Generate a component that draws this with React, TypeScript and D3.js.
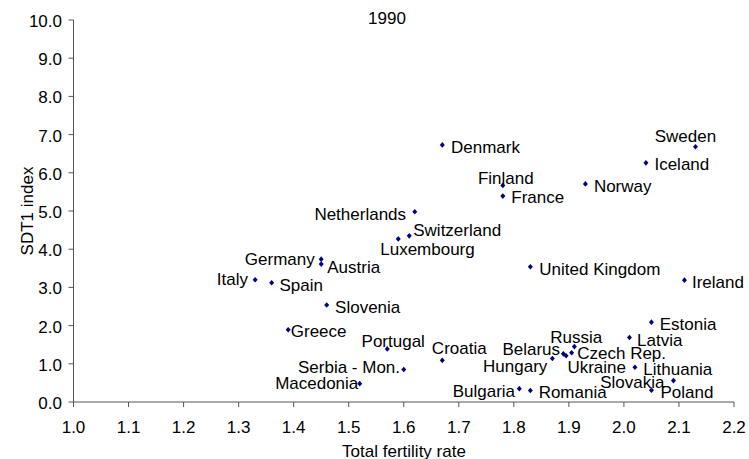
import React from "react";
import * as d3 from "d3";

const countries = [
  "Sweden", "Iceland", "Norway", "United Kingdom", "Ireland", "Finland", "France",
  "Denmark", "Netherlands", "Switzerland", "Luxembourg", "Germany", "Austria",
  "Italy", "Spain", "Slovenia", "Greece", "Portugal", "Croatia", "Serbia - Mon.",
  "Macedonia", "Estonia", "Latvia", "Russia", "Belarus", "Ukraine", "Czech Rep.",
  "Hungary", "Lithuania", "Slovakia", "Poland", "Bulgaria", "Romania",
];
const tfr = [
  2.13, 2.04, 1.93, 1.83, 2.11, 1.78, 1.78,
  1.67, 1.62, 1.61, 1.59, 1.45, 1.45,
  1.33, 1.36, 1.46, 1.39, 1.57, 1.67, 1.60,
  1.52, 2.05, 2.01, 1.91, 1.89, 1.895, 1.905,
  1.87, 2.02, 2.09, 2.05, 1.81, 1.83,
];
const sdt1 = [
  6.68, 6.26, 5.71, 3.54, 3.19, 5.67, 5.39,
  6.73, 4.98, 4.35, 4.27, 3.74, 3.61,
  3.20, 3.12, 2.54, 1.89, 1.39, 1.09, 0.85,
  0.48, 2.09, 1.69, 1.45, 1.26, 1.21, 1.29,
  1.14, 0.91, 0.56, 0.31, 0.35, 0.30,
];
const xTicks = [1.0, 1.1, 1.2, 1.3, 1.4, 1.5, 1.6, 1.7, 1.8, 1.9, 2.0, 2.1, 2.2];
const yTicks = [0, 1, 2, 3, 4, 5, 6, 7, 8, 9, 10];
const title = "1990";
const xTitle = "Total fertility rate";
const yTitle = "SDT1 index";

// label placement: [dx, dy(baseline), anchor]
const labelPlace: Record<string, [number, number, string]> = {
  "Sweden": [-10, -5, "middle"],
  "Iceland": [8.5, 7.5, "start"],
  "Norway": [8.5, 7.7, "start"],
  "United Kingdom": [9, 8, "start"],
  "Ireland": [7.5, 8.3, "start"],
  "Finland": [3, -1.5, "middle"],
  "France": [8.5, 7.3, "start"],
  "Denmark": [8.7, 8, "start"],
  "Netherlands": [-8.7, 8.3, "end"],
  "Switzerland": [4, 0, "start"],
  "Luxembourg": [-18, 16, "start"],
  "Germany": [-6.4, 6, "end"],
  "Austria": [6.1, 9.3, "start"],
  "Italy": [-7.1, 5.2, "end"],
  "Spain": [7.8, 7.7, "start"],
  "Slovenia": [8.4, 8.3, "start"],
  "Greece": [2.6, 7.6, "start"],
  "Portugal": [6, -1.7, "middle"],
  "Croatia": [17, -6.3, "middle"],
  "Serbia - Mon.": [-3.7, 3.6, "end"],
  "Macedonia": [-1.4, 5.6, "end"],
  "Estonia": [8.3, 8, "start"],
  "Latvia": [7.7, 8.4, "start"],
  "Russia": [1.8, -3.4, "middle"],
  "Belarus": [-3.3, 1, "end"],
  "Ukraine": [1.3, 17.6, "start"],
  "Czech Rep.": [5.6, 6.3, "start"],
  "Hungary": [-5, 13.4, "end"],
  "Lithuania": [8.4, 7.7, "start"],
  "Slovakia": [-9, 7.6, "end"],
  "Poland": [9, 8, "start"],
  "Bulgaria": [-4.3, 8, "end"],
  "Romania": [8.3, 7.6, "start"],
};

const W = 749;
const H = 459;
const FONT = "'Liberation Sans', Arial, Helvetica, sans-serif";
const FS = 17;

export default function App() {
  const x = d3.scaleLinear().domain([1.0, 2.2]).range([73.5, 734]);
  const y = d3.scaleLinear().domain([0, 10]).range([402, 20]);
  const axisColor = "#555";
  const fmt = d3.format(".1f");
  const diamond = "M0,-2.8L2.5,0L0,2.8L-2.5,0Z";

  return (
    <svg
      width={W}
      height={H}
      style={{ position: "absolute", left: 0, top: 0, background: "#fff" }}
      fontFamily={FONT}
      fontSize={FS}
    >
      <rect x={0} y={0} width={W} height={H} fill="#fff" />
      {/* Y axis */}
      <line x1={x(1)} x2={x(1)} y1={y(10)} y2={y(0)} stroke={axisColor} strokeWidth={1} />
      {yTicks.map((t) => (
        <g key={"y" + t}>
          <line x1={x(1) - 5} x2={x(1)} y1={y(t)} y2={y(t)} stroke={axisColor} />
          <text x={62} y={y(t) + 7} textAnchor="end" fill="#000">
            {fmt(t)}
          </text>
        </g>
      ))}
      {/* X axis */}
      <line x1={x(1)} x2={x(2.2)} y1={y(0)} y2={y(0)} stroke={axisColor} strokeWidth={1} />
      {xTicks.map((t) => (
        <g key={"x" + t}>
          <line x1={x(t)} x2={x(t)} y1={y(0)} y2={y(0) + 5} stroke={axisColor} />
          <text x={x(t)} y={433} textAnchor="middle" fill="#000">
            {fmt(t)}
          </text>
        </g>
      ))}
      <text x={404} y={457} textAnchor="middle" fill="#000">
        {xTitle}
      </text>
      <text
        transform={`translate(33,${y(5)}) rotate(-90)`}
        textAnchor="middle"
        fill="#000"
      >
        {yTitle}
      </text>
      <text x={387} y={24} textAnchor="middle" fill="#000">
        {title}
      </text>
      {/* points */}
      {countries.map((c, i) => {
        const px = x(tfr[i]);
        const py = y(sdt1[i]);
        const [dx, dy, anchor] = labelPlace[c];
        return (
          <g key={c}>
            <path d={diamond} transform={`translate(${px},${py})`} fill="#000080" />
            <text x={px + dx} y={py + dy} textAnchor={anchor as any} fill="#000">
              {c}
            </text>
          </g>
        );
      })}
    </svg>
  );
}
